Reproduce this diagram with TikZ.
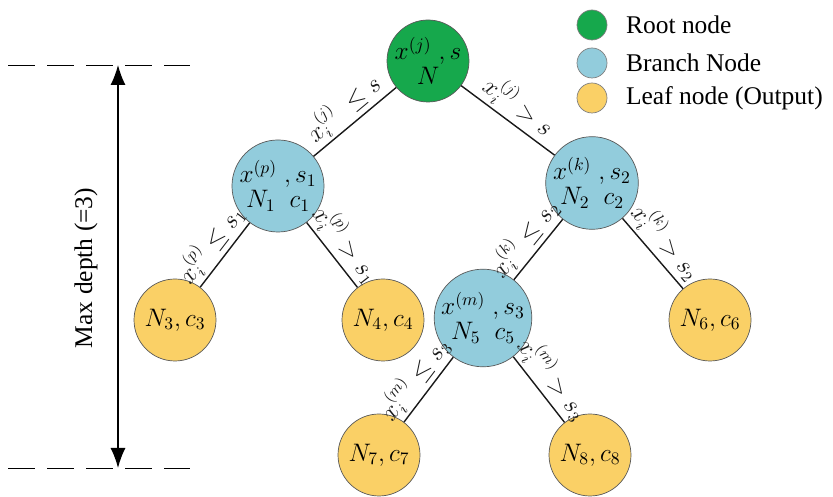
\documentclass[tikz,border=0pt]{standalone}
\usepackage{amsmath}
\usepackage{amssymb}
\usepackage{fontspec}
\setmainfont{Liberation Serif}
\usepackage{tikz}
\usetikzlibrary{arrows.meta}
\usetikzlibrary{positioning}
\usepackage{xcolor}
\definecolor{rootgreen}{RGB}{22,168,76}
\definecolor{branchblue}{RGB}{146,204,220}
\definecolor{leafyellow}{RGB}{250,208,102}

\begin{document}
\begin{tikzpicture}
  \tikzset{treenode/.style = {shape=circle,draw=black!65,minimum size=1.64cm,inner sep=0pt,align=center,font=\fontsize{14.5}{15}\selectfont}}
  \tikzset{rootnode/.style = {treenode, fill=rootgreen}}
  \tikzset{branchnode/.style = {treenode, fill=branchblue}}
  \tikzset{leafnode/.style = {treenode, fill=leafyellow}}
  \tikzset{keynode/.style = {shape=circle,draw=black!50,minimum size=0.6cm,inner sep=0pt}}
  \tikzset{edge/.style = {thick, black!90}}
  \tikzset{cond/.style = {sloped,above,inner sep=1.5pt,font=\fontsize{13.5}{14}\selectfont}}
  \tikzset{depthline/.style = {thin, dash pattern=on 0.54cm off 0.24cm}}

  \useasboundingbox (0,0) rectangle (16.66,9.94);

	\node[rootnode] (R) at (8.56,8.72) {$x^{(j)}\;,s$\\[-1pt]$N$};
	\node[branchnode] (N1) at (5.56,6.22) {$x^{(p)}\;,s_1$\\[-1pt]$N_1\;\;c_1$};
	\node[branchnode] (N2) at (11.84,6.28) {$x^{(k)}\;,s_2$\\[-1pt]$N_2\;\;c_2$};
	\node[leafnode] (N3) at (3.5,3.54) {$N_3,c_3$};
	\node[leafnode] (N4) at (7.66,3.54) {$N_4,c_4$};
	\node[branchnode] (N5) at (9.66,3.58) {$x^{(m)}\;,s_3$\\[-1pt]$N_5\;\;c_5$};
	\node[leafnode] (N6) at (14.2,3.54) {$N_6,c_6$};
	\node[leafnode] (N7) at (7.58,0.84) {$N_7,c_7$};
	\node[leafnode] (N8) at (11.8,0.84) {$N_8,c_8$};

    % left branches (drawn upwards), right branches (drawn downwards)
    \foreach \from/\to/\lab in {N1/R/{$x_i^{(j)}\;\le s$},N3/N1/{$x_i^{(p)}\le s_1$},N5/N2/{$x_i^{(k)}\le s_2$},N7/N5/{$x_i^{(m)}\le s_3$}}
    \path[edge](\from) edge node [cond]{\lab} (\to);

    \foreach \from/\to/\lab in {R/N2/{$x_i^{(j)}>s$},N1/N4/{$x_i^{(p)}>s_1$},N2/N6/{$x_i^{(k)}>s_2$},N5/N8/{$x_i^{(m)}>s_3$}}
    \path[edge](\from) edge node [cond]{\lab} (\to);

    % depth marker
    \coordinate (topL) at (0.16,8.64);
    \coordinate (topR) at (3.8,8.64);
    \coordinate (botL) at (0.16,0.58);
    \coordinate (botR) at (3.8,0.58);
    \coordinate (up) at (2.36,8.64);
    \coordinate (down) at (2.36,0.58);
    \draw[depthline] (topL) -- (topR);
    \draw[depthline] (botL) -- (botR);
    \draw[{Latex[length=4mm,width=3mm]}-{Latex[length=4mm,width=3mm]}, thick] (up) -- (down);
    \node[rotate=90,font=\fontsize{14.5}{15}\selectfont] (depth) at (1.72,4.58) {Max depth (=3)};

    % legend
    \node[keynode, fill=rootgreen] (K1) at (11.84,9.44) {};
    \node[keynode, fill=branchblue] (K2) at (11.84,8.68) {};
    \node[keynode, fill=leafyellow] (K3) at (11.84,7.98) {};
    \node[right=0.25cm of K1,font=\fontsize{14.5}{15}\selectfont] (T1) {Root node};
    \node[right=0.25cm of K2,font=\fontsize{14.5}{15}\selectfont] (T2) {Branch Node};
    \node[right=0.25cm of K3,font=\fontsize{14.5}{15}\selectfont] (T3) {Leaf node (Output)};

\end{tikzpicture}
\end{document}
